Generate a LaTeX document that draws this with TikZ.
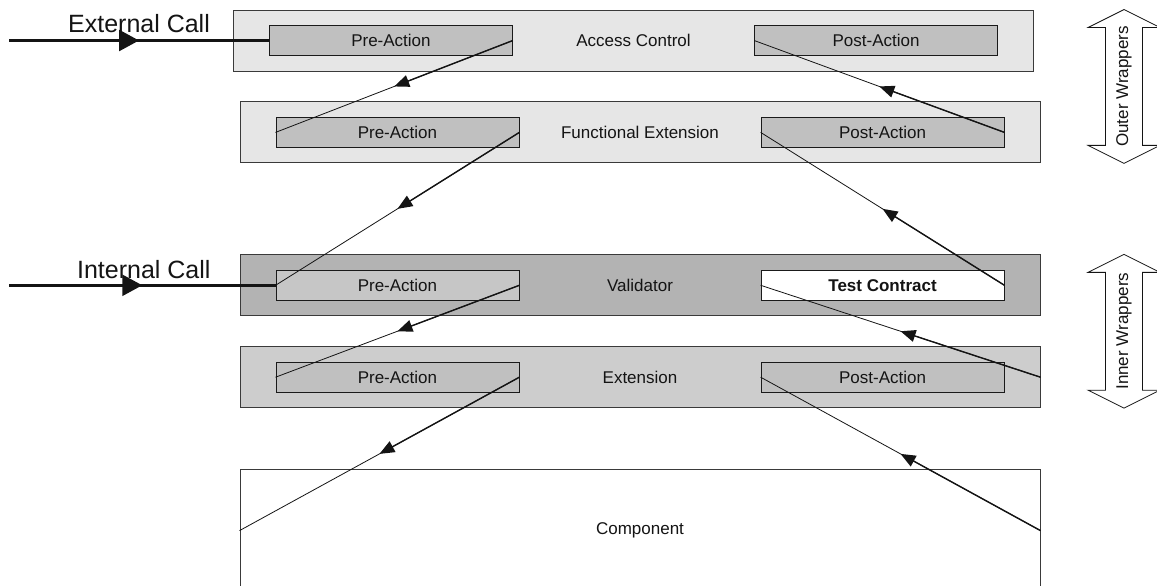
\documentclass[tikz,border=0pt]{standalone}
\usepackage{fontspec}
\setsansfont{Liberation Sans}
\usepackage{tikz}
\usetikzlibrary{arrows.meta, positioning, calc}
\definecolor{BoxLine}{HTML}{3A3A3A}
\definecolor{ActLine}{HTML}{1A1A1A}
\definecolor{Ink}{HTML}{141414}
\definecolor{OuterFill}{HTML}{E6E6E6}
\definecolor{ActFill}{HTML}{C0C0C0}
\definecolor{ValFill}{HTML}{B3B3B3}
\definecolor{ValAct}{HTML}{C6C6C6}
\definecolor{InnerFill}{HTML}{CDCDCD}
\newcommand{\lblsize}{\fontsize{17pt}{20pt}\selectfont}
\newcommand{\callsize}{\fontsize{25pt}{30pt}\selectfont}

\begin{document}
\begin{tikzpicture}[
    x=1pt, y=-1pt,
    font=\sffamily\lblsize,
    text=Ink,
    wrapbox/.style={
      draw=BoxLine,
      line width=0.9pt,
      minimum width=800pt,
      minimum height=61pt,
      inner sep=0pt,
    },
    actbox/.style={
      draw=ActLine,
      line width=0.8pt,
      fill=ActFill,
      minimum width=243pt,
      minimum height=30.5pt,
      inner sep=0pt,
    },
    hop/.style={Ink, line width=0.8pt},
    hophead/.style={Ink, line width=1.4pt, -{Triangle[length=15pt,width=12pt]}},
    callline/.style={Ink, line width=2.6pt},
    callhead/.style={callline, -{Triangle[length=20pt,width=21pt]}},
    calltxt/.style={font=\sffamily\callsize, inner sep=0pt, anchor=base},
    band/.style={draw=Ink, fill=white, line width=0.8pt},
  ]
    \useasboundingbox (0,0) rectangle (1157,586);
    \clip (0,0) rectangle (1157,586);

    % ---- wrapper layers ----
    \node[wrapbox, fill=OuterFill] (acc) at (633.5,40.5) {Access Control};
    \node[wrapbox, fill=OuterFill, below=30pt of acc, xshift=6.5pt] (fext) {Functional Extension};
    \node[wrapbox, fill=ValFill, below=91pt of fext] (val) {Validator};
    \node[wrapbox, fill=InnerFill, below=30pt of val] (ext) {Extension};
    \node[wrapbox, fill=white, minimum height=122pt, below=61pt of ext] (comp) {Component};

    % ---- pre / post actions ----
    \node[actbox, anchor=west] (pa1) at ([xshift=36pt]acc.west) {Pre-Action};
    \node[actbox, anchor=east] (po1) at ([xshift=-36pt]acc.east) {Post-Action};
    \node[actbox, anchor=west] (pa2) at ([xshift=36pt]fext.west) {Pre-Action};
    \node[actbox, anchor=east] (po2) at ([xshift=-36pt]fext.east) {Post-Action};
    \node[actbox, fill=ValAct, anchor=west] (pa3) at ([xshift=36pt]val.west) {Pre-Action};
    \node[actbox, fill=white, font=\sffamily\lblsize\bfseries, anchor=east] (tc)
      at ([xshift=-36pt]val.east) {Test Contract};
    \node[actbox, anchor=west] (pa4) at ([xshift=36pt]ext.west) {Pre-Action};
    \node[actbox, anchor=east] (po4) at ([xshift=-36pt]ext.east) {Post-Action};

    % ---- call flow, arrow half way ----
    \foreach \a/\b in {pa1.east/pa2.west, pa2.east/pa3.west, pa3.east/pa4.west,
      pa4.east/comp.west, comp.east/po4.west, ext.east/tc.west,
      tc.east/po2.west, po2.east/po1.west} {
      \draw[hop] (\a) -- (\b);
      \draw[hophead] (\a) -- ($(\a)!0.5!(\b)$);
    }

    % ---- entry calls ----
    \coordinate (xin) at (pa1.west -| 9,0);
    \coordinate (iin) at (pa3.west -| 9,0);
    \foreach \s/\t in {xin/pa1.west, iin/pa3.west} {
      \draw[callline] (\s) -- (\t);
      \draw[callhead] (\s) -- ($(\s)!0.5!(\t)$);
    }
    \node[calltxt] (xlbl) at ([yshift=8pt]$(xin)!0.5!(pa1.west)$) {External Call};
    \node[calltxt] (ilbl) at ([xshift=1.5pt,yshift=7pt]$(iin)!0.5!(pa3.west)$) {Internal Call};

    % ---- wrapper ranges ----
    \coordinate (wx) at (1124,0);
    \foreach \t/\b/\txt in {acc/fext/Outer Wrappers, val/ext/Inner Wrappers} {
      \draw[band] (wx |- \t.north)
        -- ([shift={(36pt,-18pt)}]wx |- \t.north)
        -- ([shift={(18.5pt,-18pt)}]wx |- \t.north)
        -- ([shift={(18.5pt,18pt)}]wx |- \b.south)
        -- ([shift={(36pt,18pt)}]wx |- \b.south)
        -- (wx |- \b.south)
        -- ([shift={(-36pt,18pt)}]wx |- \b.south)
        -- ([shift={(-18.5pt,18pt)}]wx |- \b.south)
        -- ([shift={(-18.5pt,-18pt)}]wx |- \t.north)
        -- ([shift={(-36pt,-18pt)}]wx |- \t.north)
        -- cycle;
      \node[rotate=90, inner sep=0pt] (lbl-\t)
        at ($(wx |- \t.north)!0.5!(wx |- \b.south)$) {\txt};
    }
  \end{tikzpicture}
\end{document}
